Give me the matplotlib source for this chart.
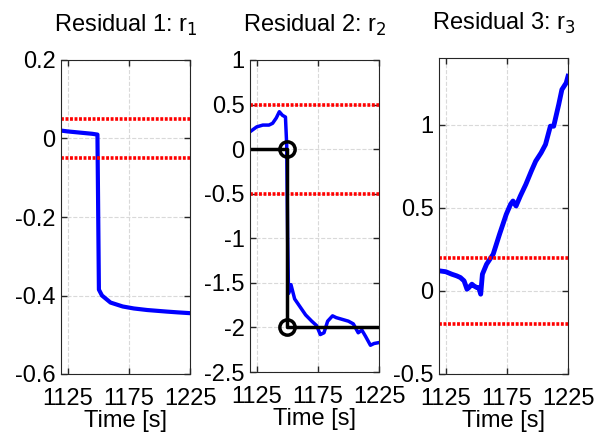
import numpy as np
import matplotlib.pyplot as plt

plt.rcParams['font.family'] = ['Liberation Sans', 'DejaVu Sans']
plt.rcParams['axes.unicode_minus'] = False

# residual 1
t1 = [1120, 1125, 1135, 1145, 1149.3, 1149.8, 1150.5, 1153, 1160, 1170, 1179, 1190, 1206, 1215, 1225]
r1 = [0.020, 0.018, 0.015, 0.012, 0.010, -0.15, -0.385, -0.400, -0.418, -0.428, -0.433, -0.437, -0.441, -0.443, -0.445]
th1 = 0.05

# residual 2
t2 = [1120, 1125, 1130, 1135, 1138, 1141, 1143.5, 1146, 1148.5, 1149.5, 1150.3, 1151, 1153, 1156, 1160,
      1165, 1170, 1174, 1177, 1180, 1183, 1187, 1190, 1195, 1200, 1204, 1208, 1211, 1214, 1218, 1221, 1225]
r2 = [0.20, 0.25, 0.27, 0.27, 0.29, 0.35, 0.42, 0.38, 0.36, 0.05, -1.0, -1.62, -1.52, -1.68, -1.76,
      -1.86, -1.93, -1.98, -2.08, -2.06, -1.93, -1.87, -1.89, -1.91, -1.93, -1.96, -2.06, -2.03, -2.10, -2.20, -2.18, -2.17]
th2 = 0.5
fault_t = [1120, 1150, 1150, 1225]
fault_r = [0, 0, -2, -2]
marker_t = [1150, 1150]
marker_r = [0, -2]

# residual 3
t3 = [1120, 1125, 1130, 1134, 1137, 1140, 1142.4, 1144, 1146.4, 1148, 1150.4, 1152, 1153.6, 1155, 1158.4,
      1163.8, 1169, 1174.5, 1178, 1180, 1182.5, 1186, 1190.5, 1195, 1198.6, 1203, 1206.6, 1210.6, 1213.3,
      1217.4, 1220, 1223.5, 1225]
r3 = [0.12, 0.115, 0.10, 0.09, 0.08, 0.06, 0.01, 0.02, 0.04, 0.03, 0.02, 0.02, -0.02, 0.10, 0.16,
      0.22, 0.34, 0.46, 0.52, 0.54, 0.51, 0.57, 0.64, 0.72, 0.78, 0.83, 0.88, 0.99, 0.99,
      1.12, 1.21, 1.25, 1.29]
th3 = 0.2

xticks = [1125, 1175, 1225]

fig = plt.figure(figsize=(6.05, 4.36), dpi=100)
W, H = 605.0, 436.0
boxes = [(61, 60, 129, 314), (250, 60, 129, 312), (439, 58, 129, 316)]
axs = [fig.add_axes([x/W, 1 - (y + h)/H, w/W, h/H]) for x, y, w, h in boxes]

def style(ax, title, ylim, yticks):
    ax.set_xlim(1119.5, 1225)
    ax.set_ylim(*ylim)
    ax.set_xticks(xticks)
    ax.set_yticks(yticks)
    ax.set_yticklabels(['%g' % v for v in yticks])
    ax.tick_params(direction='in', top=True, right=True, labelsize=17, length=4,
                   width=1, color='#262626')
    ax.tick_params(axis='x', pad=10)
    ax.tick_params(axis='y', pad=4)
    ax.grid(True, ls='--', color='#d9d9d9', lw=0.8)
    for s in ax.spines.values():
        s.set_color('#262626')
    ax.set_title(title, fontsize=17, pad=20)
    ax.set_xlabel('Time [s]', fontsize=17, labelpad=0)

def thresholds(ax, th):
    for v in (th, -th):
        ax.axhline(v, color='#ff0000', lw=2.6, dashes=(0.8, 0.45))

ax = axs[0]
ax.plot(t1, r1, color='#0000ff', lw=3)
thresholds(ax, th1)
style(ax, 'Residual 1: r$_1$', (-0.6, 0.2), [-0.6, -0.4, -0.2, 0, 0.2])

ax = axs[1]
ax.plot(t2, r2, color='#0000ff', lw=2.5)
thresholds(ax, th2)
ax.plot(fault_t, fault_r, color='k', lw=2.5)
ax.plot(marker_t, marker_r, 'o', mfc='none', mec='k', mew=2.5, ms=11)
style(ax, 'Residual 2: r$_2$', (-2.5, 1), [-2.5, -2, -1.5, -1, -0.5, 0, 0.5, 1])

ax = axs[2]
ax.plot(t3, r3, color='#0000ff', lw=3.5)
thresholds(ax, th3)
style(ax, 'Residual 3: r$_3$', (-0.5, 1.4), [-0.5, 0, 0.5, 1])

fig.savefig('out.png', dpi=100)
